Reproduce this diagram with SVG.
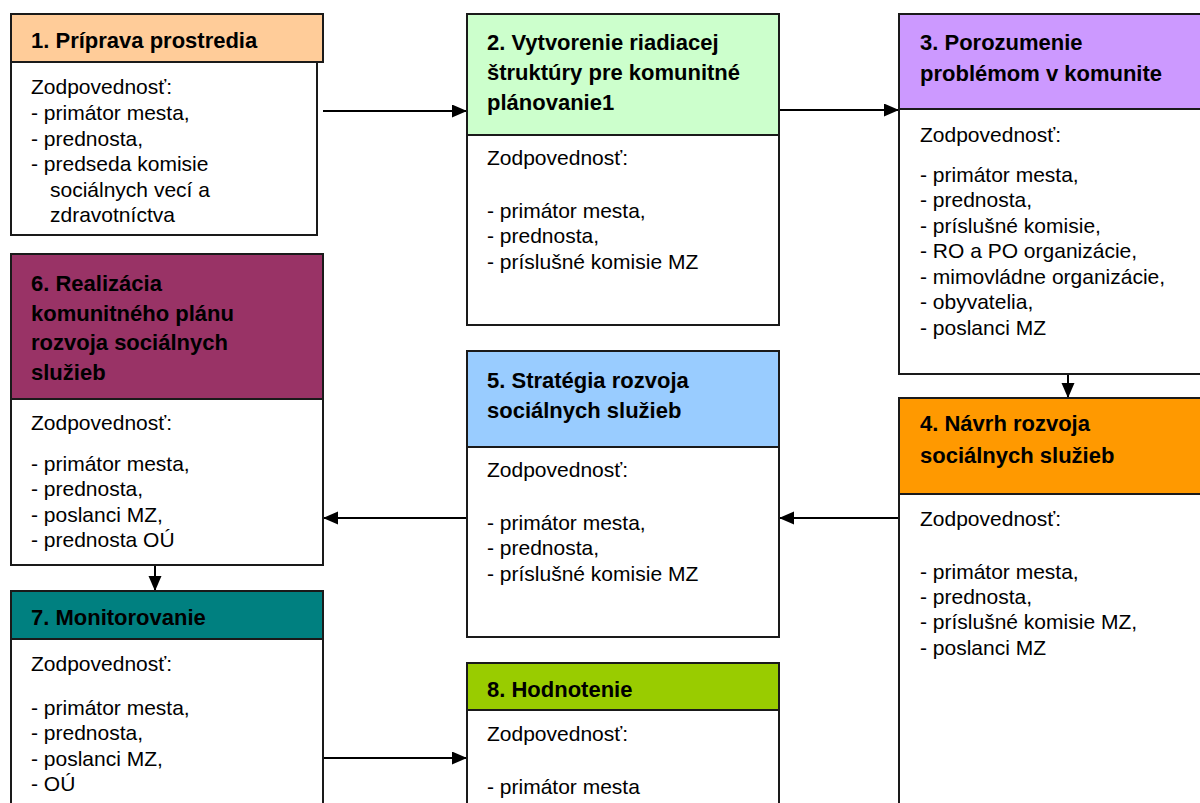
<svg xmlns="http://www.w3.org/2000/svg" width="1200" height="803" viewBox="0 0 1200 803">
<defs>
<style>
.box{stroke:#1a1a1a;stroke-width:2}
.body{fill:#ffffff}
.t{font-family:"Liberation Sans",Arial,sans-serif;font-weight:bold;font-size:22px;fill:#000}
.b{font-family:"Liberation Sans",Arial,sans-serif;font-size:21px;fill:#000}
.c{stroke:#000;stroke-width:2;fill:none;marker-end:url(#ah)}
</style>
<marker id="ah" markerUnits="userSpaceOnUse" markerWidth="16" markerHeight="14" refX="15" refY="6.5" orient="auto">
<path d="M0,0 L15,6.5 L0,13 z" fill="#000"/>
</marker>
</defs>
<rect width="1200" height="803" fill="#fff"/>

<g id="connectors">
<line class="c" x1="323" y1="111" x2="467" y2="111"/>
<line class="c" x1="779" y1="110" x2="899" y2="110"/>
<line class="c" x1="1068" y1="374" x2="1068" y2="398"/>
<line class="c" x1="899" y1="518" x2="779" y2="518"/>
<line class="c" x1="467" y1="518" x2="323" y2="518"/>
<line class="c" x1="155" y1="565" x2="155" y2="591"/>
<line class="c" x1="323" y1="758" x2="467" y2="758"/>
</g>

<g id="node1">
<rect class="box body" x="11" y="62" width="306" height="173"/>
<rect class="box" x="11" y="14" width="312" height="48" fill="#FFCC99"/>
<text class="t" x="31" y="48">1. Príprava prostredia</text>
<text class="b" x="31" y="94">Zodpovednosť:</text>
<text class="b" x="31" y="120">- primátor mesta,</text>
<text class="b" x="31" y="146">- prednosta,</text>
<text class="b" x="31" y="171">- predseda komisie</text>
<text class="b" x="50" y="197">sociálnych vecí a</text>
<text class="b" x="50" y="222">zdravotníctva</text>
</g>

<g id="node2">
<rect class="box body" x="467" y="135" width="312" height="190"/>
<rect class="box" x="467" y="14" width="312" height="121" fill="#CCFFCC"/>
<text class="t" x="487" y="50">2. Vytvorenie riadiacej</text>
<text class="t" x="487" y="80">štruktúry pre komunitné</text>
<text class="t" x="487" y="110">plánovanie1</text>
<text class="b" x="487" y="165">Zodpovednosť:</text>
<text class="b" x="487" y="218">- primátor mesta,</text>
<text class="b" x="487" y="243">- prednosta,</text>
<text class="b" x="487" y="269">- príslušné komisie MZ</text>
</g>

<g id="node3">
<rect class="box body" x="899" y="109" width="320" height="265"/>
<rect class="box" x="899" y="14" width="320" height="95" fill="#CC99FF"/>
<text class="t" x="920" y="50">3. Porozumenie</text>
<text class="t" x="920" y="81">problémom v komunite</text>
<text class="b" x="920" y="142">Zodpovednosť:</text>
<text class="b" x="920" y="182">- primátor mesta,</text>
<text class="b" x="920" y="207">- prednosta,</text>
<text class="b" x="920" y="233">- príslušné komisie,</text>
<text class="b" x="920" y="258">- RO a PO organizácie,</text>
<text class="b" x="920" y="284">- mimovládne organizácie,</text>
<text class="b" x="920" y="309">- obyvatelia,</text>
<text class="b" x="920" y="335">- poslanci MZ</text>
</g>

<g id="node4">
<rect class="box body" x="899" y="494" width="320" height="330"/>
<rect class="box" x="899" y="398" width="320" height="96" fill="#FF9900"/>
<text class="t" x="920" y="431">4. Návrh rozvoja</text>
<text class="t" x="920" y="463">sociálnych služieb</text>
<text class="b" x="920" y="526">Zodpovednosť:</text>
<text class="b" x="920" y="579">- primátor mesta,</text>
<text class="b" x="920" y="604">- prednosta,</text>
<text class="b" x="920" y="629">- príslušné komisie MZ,</text>
<text class="b" x="920" y="655">- poslanci MZ</text>
</g>

<g id="node5">
<rect class="box body" x="467" y="447" width="312" height="190"/>
<rect class="box" x="467" y="351" width="312" height="96" fill="#99CCFF"/>
<text class="t" x="487" y="388">5. Stratégia rozvoja</text>
<text class="t" x="487" y="418">sociálnych služieb</text>
<text class="b" x="487" y="477">Zodpovednosť:</text>
<text class="b" x="487" y="530">- primátor mesta,</text>
<text class="b" x="487" y="555">- prednosta,</text>
<text class="b" x="487" y="581">- príslušné komisie MZ</text>
</g>

<g id="node6">
<rect class="box body" x="11" y="399" width="312" height="166"/>
<rect class="box" x="11" y="254" width="312" height="145" fill="#993366"/>
<text class="t" x="31" y="291">6. Realizácia</text>
<text class="t" x="31" y="321">komunitného plánu</text>
<text class="t" x="31" y="350">rozvoja sociálnych</text>
<text class="t" x="31" y="380">služieb</text>
<text class="b" x="31" y="430">Zodpovednosť:</text>
<text class="b" x="31" y="471">- primátor mesta,</text>
<text class="b" x="31" y="496">- prednosta,</text>
<text class="b" x="31" y="522">- poslanci MZ,</text>
<text class="b" x="31" y="547">- prednosta OÚ</text>
</g>

<g id="node7">
<rect class="box body" x="11" y="639" width="312" height="190"/>
<rect class="box" x="11" y="591" width="312" height="48" fill="#008080"/>
<text class="t" x="31" y="625">7. Monitorovanie</text>
<text class="b" x="31" y="671">Zodpovednosť:</text>
<text class="b" x="31" y="715">- primátor mesta,</text>
<text class="b" x="31" y="740">- prednosta,</text>
<text class="b" x="31" y="766">- poslanci MZ,</text>
<text class="b" x="31" y="791">- OÚ</text>
</g>

<g id="node8">
<rect class="box body" x="467" y="710" width="312" height="120"/>
<rect class="box" x="467" y="663" width="312" height="47" fill="#99CC00"/>
<text class="t" x="487" y="697">8. Hodnotenie</text>
<text class="b" x="487" y="741">Zodpovednosť:</text>
<text class="b" x="487" y="794">- primátor mesta</text>
</g>
</svg>
